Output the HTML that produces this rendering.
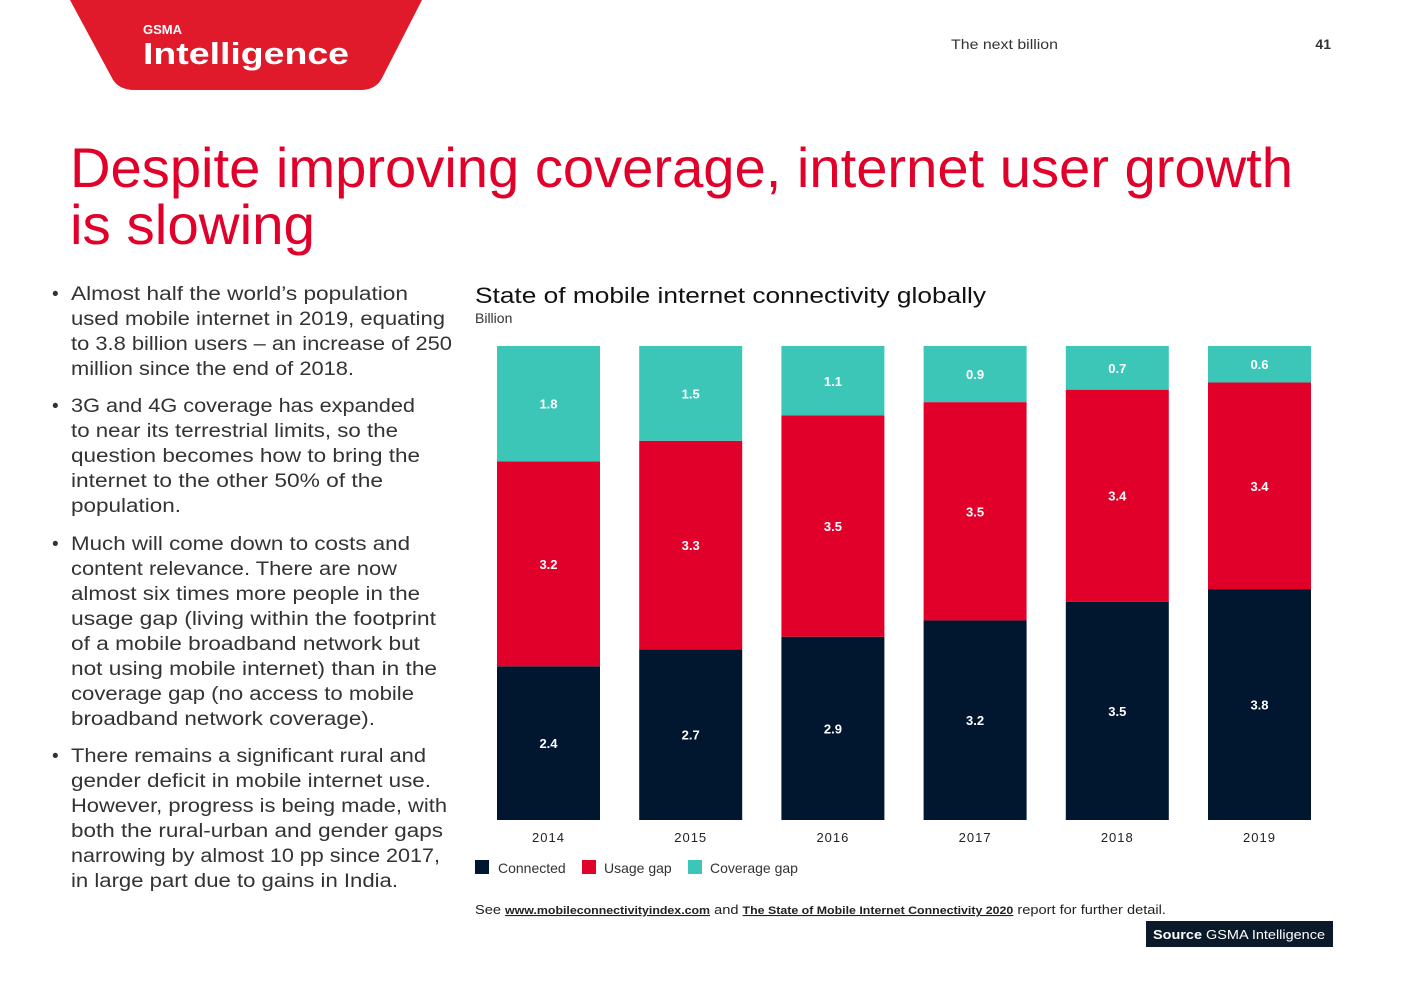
<!DOCTYPE html>
<html><head><meta charset="utf-8"><style>
body{margin:0;background:#fff}
svg{display:block;font-family:"Liberation Sans",sans-serif}
</style></head><body>
<svg width="1403" height="992" viewBox="0 0 1403 992">
<g>
<path d="M70 0 L422 0 L382 78 Q376 90 360 90 L135 90 Q118 90 112 78 Z" fill="#e01a2b"/>
<text x="143" y="34" fill="#fff" font-size="13" font-weight="bold">GSMA</text>
<text x="143" y="64" fill="#fff" font-size="31" font-weight="bold" textLength="206" lengthAdjust="spacingAndGlyphs">Intelligence</text>
</g>
<text x="951" y="49" font-size="14" fill="#333" textLength="107" lengthAdjust="spacingAndGlyphs">The next billion</text>
<text x="1331" y="49" font-size="14" font-weight="bold" fill="#333" text-anchor="end">41</text>
<g fill="#e0002a" font-size="56">
<text x="70" y="187" textLength="1223" lengthAdjust="spacingAndGlyphs">Despite improving coverage, internet user growth</text>
<text x="70" y="244" textLength="245" lengthAdjust="spacingAndGlyphs">is slowing</text>
</g>
<g font-size="19" fill="#333">
<text x="52" y="300">•</text>
<text x="71" y="300" textLength="337" lengthAdjust="spacingAndGlyphs">Almost half the world’s population</text>
<text x="71" y="325" textLength="374" lengthAdjust="spacingAndGlyphs">used mobile internet in 2019, equating</text>
<text x="71" y="350" textLength="381" lengthAdjust="spacingAndGlyphs">to 3.8 billion users – an increase of 250</text>
<text x="71" y="375" textLength="283" lengthAdjust="spacingAndGlyphs">million since the end of 2018.</text>
<text x="52" y="412">•</text>
<text x="71" y="412" textLength="344" lengthAdjust="spacingAndGlyphs">3G and 4G coverage has expanded</text>
<text x="71" y="437" textLength="327" lengthAdjust="spacingAndGlyphs">to near its terrestrial limits, so the</text>
<text x="71" y="462" textLength="349" lengthAdjust="spacingAndGlyphs">question becomes how to bring the</text>
<text x="71" y="487" textLength="312" lengthAdjust="spacingAndGlyphs">internet to the other 50% of the</text>
<text x="71" y="512" textLength="110" lengthAdjust="spacingAndGlyphs">population.</text>
<text x="52" y="550">•</text>
<text x="71" y="550" textLength="339" lengthAdjust="spacingAndGlyphs">Much will come down to costs and</text>
<text x="71" y="575" textLength="326" lengthAdjust="spacingAndGlyphs">content relevance. There are now</text>
<text x="71" y="600" textLength="349" lengthAdjust="spacingAndGlyphs">almost six times more people in the</text>
<text x="71" y="625" textLength="365" lengthAdjust="spacingAndGlyphs">usage gap (living within the footprint</text>
<text x="71" y="650" textLength="349" lengthAdjust="spacingAndGlyphs">of a mobile broadband network but</text>
<text x="71" y="675" textLength="366" lengthAdjust="spacingAndGlyphs">not using mobile internet) than in the</text>
<text x="71" y="700" textLength="343" lengthAdjust="spacingAndGlyphs">coverage gap (no access to mobile</text>
<text x="71" y="725" textLength="304" lengthAdjust="spacingAndGlyphs">broadband network coverage).</text>
<text x="52" y="762">•</text>
<text x="71" y="762" textLength="355" lengthAdjust="spacingAndGlyphs">There remains a significant rural and</text>
<text x="71" y="787" textLength="360" lengthAdjust="spacingAndGlyphs">gender deficit in mobile internet use.</text>
<text x="71" y="812" textLength="376" lengthAdjust="spacingAndGlyphs">However, progress is being made, with</text>
<text x="71" y="837" textLength="372" lengthAdjust="spacingAndGlyphs">both the rural-urban and gender gaps</text>
<text x="71" y="862" textLength="369" lengthAdjust="spacingAndGlyphs">narrowing by almost 10 pp since 2017,</text>
<text x="71" y="887" textLength="327" lengthAdjust="spacingAndGlyphs">in large part due to gains in India.</text>
</g>
<text x="475" y="303" font-size="22" fill="#111" textLength="511" lengthAdjust="spacingAndGlyphs">State of mobile internet connectivity globally</text>
<text x="475" y="323" font-size="14" fill="#333">Billion</text>
<g id="chart"></g>
<g font-size="14" fill="#333">
<rect x="475" y="860" width="14" height="14" fill="#00172f"/>
<text x="498" y="873">Connected</text>
<rect x="582" y="860" width="14" height="14" fill="#e0002a"/>
<text x="604" y="873">Usage gap</text>
<rect x="688" y="860" width="14" height="14" fill="#3cc6b8"/>
<text x="710" y="873">Coverage gap</text>
</g>
<g font-size="13" fill="#222">
<text x="475" y="914" textLength="691" lengthAdjust="spacingAndGlyphs">See <tspan font-weight="bold" font-size="11" text-decoration="underline">www.mobileconnectivityindex.com</tspan> and <tspan font-weight="bold" font-size="11" text-decoration="underline">The State of Mobile Internet Connectivity 2020</tspan> report for further detail.</text>
</g>
<g>
<rect x="1146" y="921" width="187" height="26" fill="#0b1a2b"/>
<text x="1153" y="939" font-size="13" fill="#fff" textLength="172" lengthAdjust="spacingAndGlyphs"><tspan font-weight="bold">Source</tspan> GSMA Intelligence</text>
</g>
</svg>
<script>
const years=['2014','2015','2016','2017','2018','2019'];
const connected=[2.4,2.7,2.9,3.2,3.5,3.8];
const usageGap=[3.2,3.3,3.5,3.5,3.4,3.4];
const coverageGap=[1.8,1.5,1.1,0.9,0.7,0.6];
const NS='http://www.w3.org/2000/svg';
const g=document.getElementById('chart');
const top0=346,bot=820,x0=497,pitch=142.2,bw=103;
function mk(t,a){const e=document.createElementNS(NS,t);for(const k in a)e.setAttribute(k,a[k]);g.appendChild(e);return e;}
years.forEach((y,i)=>{
  const segs=[[connected[i],'#00172f','connected'],[usageGap[i],'#e0002a','usage-gap'],[coverageGap[i],'#3cc6b8','coverage-gap']];
  const tot=connected[i]+usageGap[i]+coverageGap[i];
  const sc=v=>v/tot*(bot-top0);
  let yb=bot;const x=x0+i*pitch;
  segs.forEach(s=>{
    const h=sc(s[0]);
    const r=mk('rect',{x:x,y:yb-h,width:bw,height:h,fill:s[1]});
    
    
    const t=mk('text',{x:x+bw/2,y:yb-h/2+5,'text-anchor':'middle','font-size':13,'font-weight':'bold',fill:'#fff'});
    t.textContent=s[0].toFixed(1);
    
    
    yb-=h;
  });
  const yl=mk('text',{x:x+bw/2,y:842,'text-anchor':'middle','font-size':13,fill:'#222','letter-spacing':'1'});
  yl.textContent=y;
  
  
});
</script>
</body></html>
